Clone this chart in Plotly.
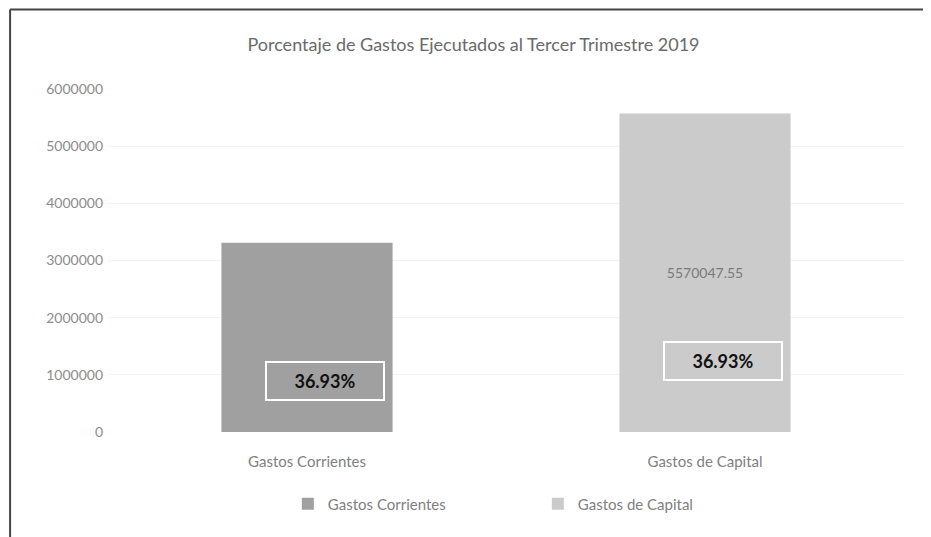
import plotly.graph_objects as go

categories = ["Gastos Corrientes", "Gastos de Capital"]
values = [3310000, 5570047.55]
value_labels = ["", "5570047.55"]
pct_labels = ["36.93%", "36.93%"]
pct_y = [890000, 1240000]
colors = ["#a0a0a0", "#cbcbcb"]
tick_vals = [0, 1000000, 2000000, 3000000, 4000000, 5000000, 6000000]

font = "Lato, 'Open Sans', sans-serif"

fig = go.Figure()
for i, c in enumerate(categories):
    fig.add_trace(go.Bar(
        x=[c], y=[values[i]], name=c,
        marker=dict(color=colors[i], line=dict(width=0)),
        text=[value_labels[i]], textposition="inside", insidetextanchor="middle",
        textfont=dict(color="#7a7a7a", size=14, family=font),
        width=0.43, offsetgroup=0,
    ))

for i, c in enumerate(categories):
    fig.add_annotation(
        x=c, y=pct_y[i], text="<b>%s</b>" % pct_labels[i], showarrow=False,
        xshift=18, font=dict(size=18, color="#111111", family=font),
        width=112, height=32,
        bordercolor="white", borderwidth=2, borderpad=2,
    )

# chart frame: top and left edges (others fall outside the picture)
fig.add_shape(type="line", xref="paper", yref="paper",
              x0=-0.123, x1=1.3, y0=1.232, y1=1.232, line=dict(color="#444444", width=2))
fig.add_shape(type="line", xref="paper", yref="paper",
              x0=-0.123, x1=-0.123, y0=-0.5, y1=1.232, line=dict(color="#444444", width=2))

fig.update_layout(
    width=931, height=537,
    margin=dict(l=100, r=35, t=81, b=113),
    paper_bgcolor="white", plot_bgcolor="white",
    title=dict(text="Porcentaje de Gastos Ejecutados al Tercer Trimestre 2019",
               x=0.5, xanchor="center", y=0.932, yanchor="middle",
               font=dict(size=18, color="#6a6a6a", family=font)),
    showlegend=True,
    legend=dict(orientation="h", x=0.54, xanchor="center", y=-0.21, yanchor="middle",
                font=dict(size=15, color="#808080", family=font), itemwidth=30,
                entrywidth=205, traceorder="normal"),
    barmode="overlay",
    font=dict(family=font),
)
fig.update_xaxes(showline=False, ticks="", ticklabelstandoff=19,
                 tickfont=dict(size=15, color="#7f7f7f", family=font))
fig.update_yaxes(range=[0, 6000000], tickvals=tick_vals, tickformat="d",
                 showgrid=True, gridcolor="#f4f4f4", zeroline=False,
                 tickfont=dict(size=14, color="#8c8c8c", family=font), ticklabelstandoff=4)

fig.write_html("out.html")
